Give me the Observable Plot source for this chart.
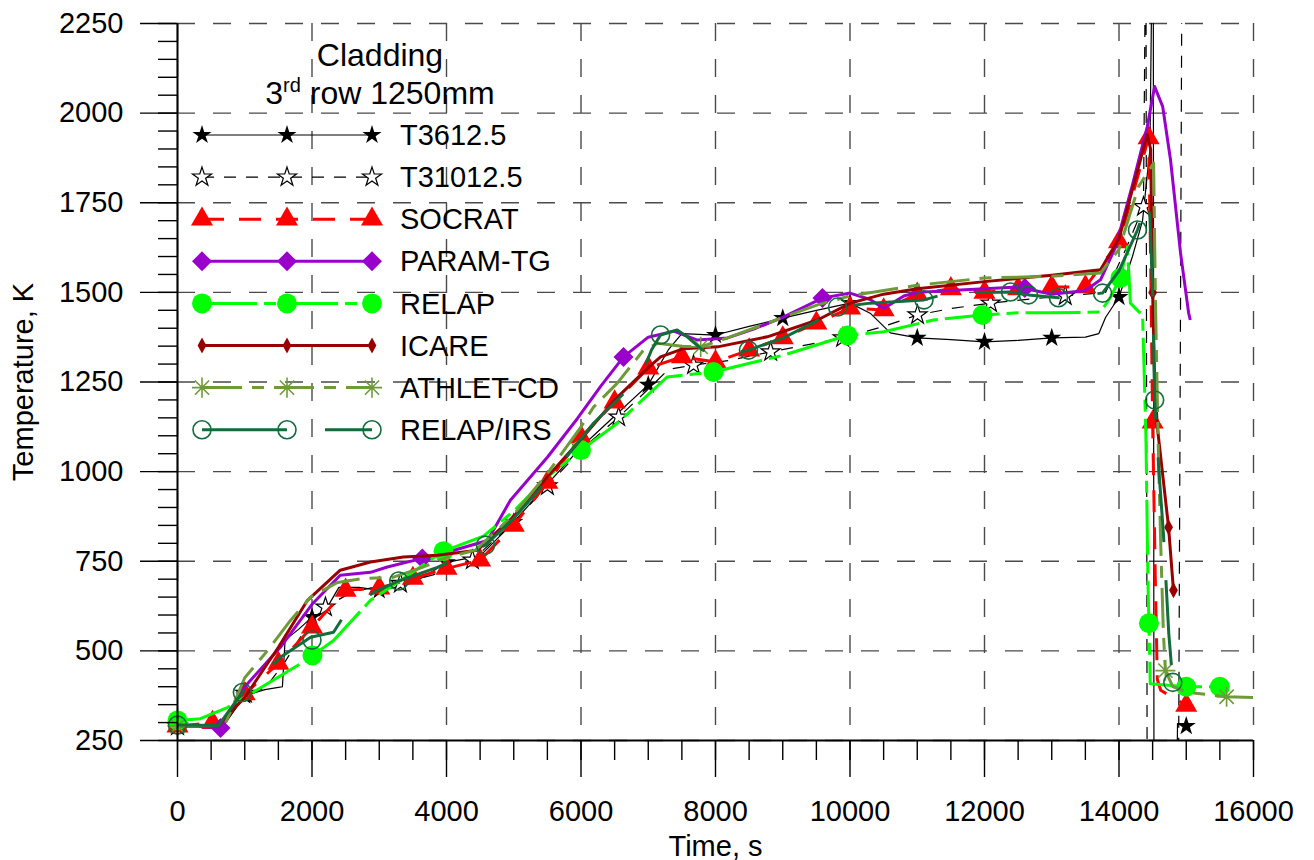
<!DOCTYPE html>
<html><head><meta charset="utf-8">
<script src="https://cdn.jsdelivr.net/npm/d3@7"></script>
<script src="https://cdn.jsdelivr.net/npm/@observablehq/plot@0.6"></script>
<style>
html,body{margin:0;padding:0;background:#fff;}
#chart{width:1314px;height:860px;position:relative;}
</style></head><body><div id="chart"></div>
<script>
// ---------- DATA ----------
const seriesNames = ["T3612.5","T31012.5","SOCRAT","PARAM-TG","RELAP","ICARE","ATHLET-CD","RELAP/IRS"];
const xMajorTicks = [0,2000,4000,6000,8000,10000,12000,14000,16000];
const yMajorTicks = [250,500,750,1000,1250,1500,1750,2000,2250];
const titleLine1 = "Cladding";
const titleLine2 = ["3", "rd", " row 1250mm"];
const xLabel = "Time, s";
const yLabel = "Temperature, K";

// T3612.5 (thermocouple)
const t36Time = [0,500,700,1000,1300,1500,1560,1600,1800,2000,2200,2400,2700,3000,3400,3700,4000,4500,5000,5500,6000,6500,7000,7300,7500,8000,8500,9000,9500,10000,10300,10600,11000,11500,12000,12500,13000,13500,13700,13800,14000,14200,14350,14460,14490,14510,14520,14860,14870,15000];
const t36Temp = [290,290,295,375,392,398,400,530,560,594,613,677,677,669,683,710,747,765,859,965,1068,1155,1242,1340,1385,1381,1405,1428,1450,1470,1442,1387,1373,1368,1362,1366,1373,1375,1385,1430,1487,1600,1700,1900,2400,2400,100,100,297,290];
const t36MarkTime = [0,1000,2000,3000,4000,5000,6000,7000,8000,9000,10000,11000,12000,13000,14000,15000];
const t36MarkTemp = [290,375,594,669,747,859,1068,1242,1381,1428,1470,1373,1362,1373,1487,290];

// T31012.5 (thermocouple)
const t310Time = [0,600,1010,1300,1600,1900,2200,2600,3000,3315,3800,4385,5000,5500,6000,6560,7000,7300,7673,8200,8820,9400,9890,10500,11004,11500,12090,12600,13200,13800,14100,14364,14400,14420,14880,14940];
const t310Temp = [290,292,381,395,470,560,622,665,680,688,712,753,860,960,1060,1152,1230,1285,1297,1310,1334,1355,1373,1405,1437,1455,1470,1480,1490,1500,1620,1739,2600,-100,-100,2600];
const t310MarkTime = [0,1010,2200,3315,4385,5500,6560,7673,8820,9890,11004,12090,13200,14364];
const t310MarkTemp = [290,381,622,688,753,960,1152,1297,1334,1373,1437,1470,1490,1739];

// SOCRAT
const socTime = [0,520,700,1000,1500,2000,2500,3000,3500,4000,4500,5000,5500,6000,6500,7000,7500,8000,8500,9000,9500,10000,10500,11000,11500,12000,12500,13000,13500,14000,14200,14440,14470,14500,14540,14570,14620,15000];
const socTemp = [290,300,305,380,465,566,669,675,702,730,753,850,970,1096,1194,1289,1320,1306,1339,1373,1414,1456,1451,1495,1510,1500,1510,1515,1515,1641,1770,1931,1600,1138,700,420,390,348];
const socMarkTime = [0,520,1000,1500,2000,2500,3000,3500,4000,4500,5000,5500,6000,6500,7000,7500,8000,8500,9000,9500,10000,10500,11000,11500,12000,12500,13000,13500,14000,14440,14500,15000];
const socMarkTemp = [290,300,380,465,566,669,675,702,730,753,850,970,1096,1194,1289,1320,1306,1339,1373,1414,1456,1451,1495,1510,1500,1510,1515,1515,1641,1931,1138,348];

// PARAM-TG
const parTime = [0,300,640,1000,1530,2000,2420,2870,3120,3640,4100,4610,4950,5500,5950,6300,6632,7000,7380,7730,8180,8600,9000,9590,10000,10300,10500,10800,11000,11500,12000,12500,13000,13500,13725,13950,14200,14420,14530,14650,14766,14915,15035,15060];
const parTemp = [290,290,285,400,510,630,711,719,734,758,780,808,920,1040,1149,1240,1320,1375,1392,1367,1373,1400,1430,1484,1498,1480,1455,1490,1500,1505,1510,1515,1495,1505,1535,1627,1800,1962,2074,2018,1870,1610,1443,1423];
const parMarkTime = [640,3640,6632,9590,12600];
const parMarkTemp = [285,758,1320,1484,1512];

// RELAP
const relTime = [0,340,740,1085,1785,2007,2320,2870,3360,3955,4550,5000,5500,6000,6540,7280,7970,9011,9963,10500,11240,11970,12500,13000,13725,13875,14020,14125,14170,14300,14350,14400,14430,14445,14465,15000,15500];
const relTemp = [306,311,342,380,459,487,529,641,702,778,820,890,985,1060,1135,1264,1278,1325,1380,1390,1423,1437,1443,1443,1445,1487,1540,1627,1470,1445,1440,1100,700,577,408,400,400];
const relMarkTime = [0,2007,3955,6000,7970,9963,11970,14020,14445,15000,15500];
const relMarkTemp = [306,487,778,1060,1278,1380,1437,1540,577,400,400];

// ICARE
const icaTime = [0,600,1000,1500,1933,2420,2870,3360,3865,4460,5000,5500,6000,6500,7000,7183,7525,8030,8770,9517,10008,10500,11000,12000,13000,13725,14000,14171,14420,14470,14500,14530,14570,14737,14810];
const icaTemp = [290,292,370,510,641,725,748,762,767,781,875,985,1090,1200,1290,1320,1343,1348,1376,1423,1470,1495,1510,1530,1548,1563,1650,1767,1940,1900,1500,1255,1125,845,669];
const icaMarkTime = [14500,14737,14810];
const icaMarkTemp = [1500,845,669];

// ATHLET-CD
const athTime = [0,700,1000,1340,1680,1980,2380,2770,3200,3600,4000,4430,5000,5500,6000,6186,6540,6930,7140,7500,7780,8180,9011,9517,10000,11000,12000,13000,13725,14000,14290,14515,14540,14580,14620,14660,14690,14800,15000,15600,16000];
const athTemp = [290,292,425,501,585,650,691,702,705,730,760,781,880,995,1125,1180,1247,1339,1358,1350,1348,1373,1431,1465,1490,1520,1540,1545,1554,1620,1795,1861,1500,1100,800,550,445,400,385,372,370];
const athMarkTime = [0,7780,14690,15600];
const athMarkTemp = [290,1348,445,372];

// RELAP/IRS
const irsTime = [0,610,965,1530,1980,2320,2500,2915,3290,3865,4580,5000,5500,6186,6885,7050,7183,7430,7580,7800,8030,8490,9011,9500,9815,10300,11100,11500,12000,12387,12654,13100,13755,14000,14275,14365,14450,14500,14530,14590,14660,14740,14800,14830];
const irsTemp = [293,292,384,482,538,552,605,663,695,733,795,870,975,1135,1264,1340,1381,1395,1376,1340,1320,1339,1373,1420,1459,1470,1479,1500,1500,1501,1493,1485,1498,1560,1674,1722,1760,1500,1200,1012,828,549,412,385];
const irsMarkTime = [0,965,2000,3290,4580,7183,8490,9815,11100,12387,12654,13100,13755,14275,14530,14800];
const irsMarkTemp = [293,384,530,695,795,1381,1339,1459,1479,1501,1493,1485,1498,1674,1200,412];

// ---------- STYLES ----------
const thinDiamond = {draw(ctx, size) {
  const h = Math.sqrt(size) * 0.5, w = h * 0.55;
  ctx.moveTo(0, -h); ctx.lineTo(w, 0); ctx.lineTo(0, h); ctx.lineTo(-w, 0); ctx.closePath();
}};
const asterisk8 = {draw(ctx, size) {
  const r = Math.sqrt(size) * 0.63, d = r * Math.SQRT1_2;
  ctx.moveTo(-r, 0); ctx.lineTo(r, 0); ctx.moveTo(0, -r); ctx.lineTo(0, r);
  ctx.moveTo(-d, -d); ctx.lineTo(d, d); ctx.moveTo(-d, d); ctx.lineTo(d, -d);
}};
const styles = [
  {color:"#000000", width:1.2, dash:null, symbol:"star", r:6, fill:"#000000", stroke:"none", sw:0},
  {color:"#000000", width:1.2, dash:"12,10", symbol:"star", r:6, fill:"#ffffff", stroke:"#000000", sw:1.2},
  {color:"#ff0000", width:3, dash:"22,15", symbol:"triangle", r:8.2, fill:"#ff0000", stroke:"none", sw:0},
  {color:"#9900cc", width:3, dash:null, symbol:"diamond2", r:9, fill:"#9900cc", stroke:"none", sw:0},
  {color:"#00ff00", width:3, dash:"55,7,12,7", symbol:"circle", r:10, fill:"#00ff00", stroke:"none", sw:0},
  {color:"#990000", width:3, dash:null, symbol:thinDiamond, r:9, fill:"#990000", stroke:"none", sw:0},
  {color:"#6e9a3a", width:3, dash:"40,10,12,10", symbol:asterisk8, r:9, fill:"none", stroke:"#6e9a3a", sw:1.6},
  {color:"#136c3c", width:3, dash:"85,38", symbol:"circle", r:9, fill:"none", stroke:"#136c3c", sw:1.6}
];

const lineSets = [
  [t36Time, t36Temp, t36MarkTime, t36MarkTemp],
  [t310Time, t310Temp, t310MarkTime, t310MarkTemp],
  [socTime, socTemp, socMarkTime, socMarkTemp],
  [parTime, parTemp, parMarkTime, parMarkTemp],
  [relTime, relTemp, relMarkTime, relMarkTemp],
  [icaTime, icaTemp, icaMarkTime, icaMarkTemp],
  [athTime, athTemp, athMarkTime, athMarkTemp],
  [irsTime, irsTemp, irsMarkTime, irsMarkTemp]
];
const rows = (ts, vs) => ts.map((t, i) => ({t, v: vs[i]}));

const FONT = "'Liberation Sans', Arial, Helvetica, sans-serif";
const gridStyle = {stroke:"#4a4a4a", strokeOpacity:1, strokeWidth:1.4, strokeDasharray:"18,18"};

const marks = [
  Plot.gridX(xMajorTicks, gridStyle),
  Plot.gridY(yMajorTicks, gridStyle)
];
lineSets.forEach(([ts, vs, mts, mvs], i) => {
  const s = styles[i];
  marks.push(Plot.line(rows(ts, vs), {x:"t", y:"v", stroke:s.color, strokeWidth:s.width,
    strokeDasharray: s.dash || undefined, strokeLinecap:"butt", strokeLinejoin:"round", clip:true}));
  marks.push(Plot.dot(rows(mts, mvs), {x:"t", y:"v", symbol:s.symbol, r:s.r, fill:s.fill,
    stroke:s.stroke, strokeWidth:s.sw}));
});
marks.push(
  Plot.axisX(d3.range(0, 16001, 500), {tickSize:20, tickFormat:() => "", label:null, strokeWidth:1.4}),
  Plot.axisX(xMajorTicks, {tickSize:37, tickPadding:23, tickFormat:d => String(d), strokeWidth:1.4,
    label:xLabel, labelAnchor:"center", labelOffset:115, labelArrow:"none"}),
  Plot.axisY(d3.range(250, 2251, 50), {tickSize:19, tickFormat:() => "", label:null, strokeWidth:1.4}),
  Plot.axisY(yMajorTicks, {tickSize:37, tickPadding:17, tickFormat:d => String(d), strokeWidth:1.4,
    label:yLabel, labelAnchor:"center", labelOffset:165, labelArrow:"none"}),
  Plot.ruleX([0], {stroke:"#000", strokeWidth:2}),
  Plot.ruleY([250], {stroke:"#000", strokeWidth:2})
);

const svg = Plot.plot({
  width:1314, height:860,
  marginLeft:177, marginRight:61, marginTop:23, marginBottom:120,
  style:{fontFamily:FONT, fontSize:"29px", color:"#000", background:"#fff"},
  x:{domain:[0,16000]},
  y:{domain:[250,2250]},
  marks
});
document.getElementById("chart").appendChild(svg);

// ---------- LEGEND (inside plot area, drawn into the same SVG) ----------
const symMap = {star:d3.symbolStar, triangle:d3.symbolTriangle, diamond2:d3.symbolDiamond2, circle:d3.symbolCircle};
const symPath = (s, r) => d3.symbol(typeof s === "string" ? symMap[s] : s, Math.PI * r * r)();
const lg = d3.select(svg).append("g").attr("font-family", FONT).attr("font-size", 29).attr("fill", "#000");
lg.append("text").attr("x", 380).attr("y", 55).attr("dy", "0.35em").attr("text-anchor", "middle")
  .attr("font-size", 32).text(titleLine1);
const t2 = lg.append("text").attr("x", 380).attr("y", 93).attr("dy", "0.35em").attr("text-anchor", "middle")
  .attr("font-size", 32);
t2.append("tspan").text(titleLine2[0]);
t2.append("tspan").attr("font-size", 20).attr("dy", -12).text(titleLine2[1]);
t2.append("tspan").attr("dy", 12).text(titleLine2[2]);
const legX0 = 202, legX1 = 372, legTextX = 400, legY0 = 135, legStep = 42.1;
seriesNames.forEach((name, i) => {
  const s = styles[i];
  const y = legY0 + i * legStep;
  const row = lg.append("g");
  row.append("line").attr("x1", legX0).attr("x2", legX1).attr("y1", y).attr("y2", y)
    .attr("stroke", s.color).attr("stroke-width", s.width)
    .attr("stroke-dasharray", s.dash || null);
  [legX0, (legX0 + legX1) / 2, legX1].forEach(x => {
    row.append("path").attr("d", symPath(s.symbol, s.r)).attr("transform", `translate(${x},${y})`)
      .attr("fill", s.fill).attr("stroke", s.stroke).attr("stroke-width", s.sw);
  });
  row.append("text").attr("x", legTextX).attr("y", y).attr("dy", "0.35em")
    .attr("text-anchor", "start").text(name);
});
</script></body></html>
